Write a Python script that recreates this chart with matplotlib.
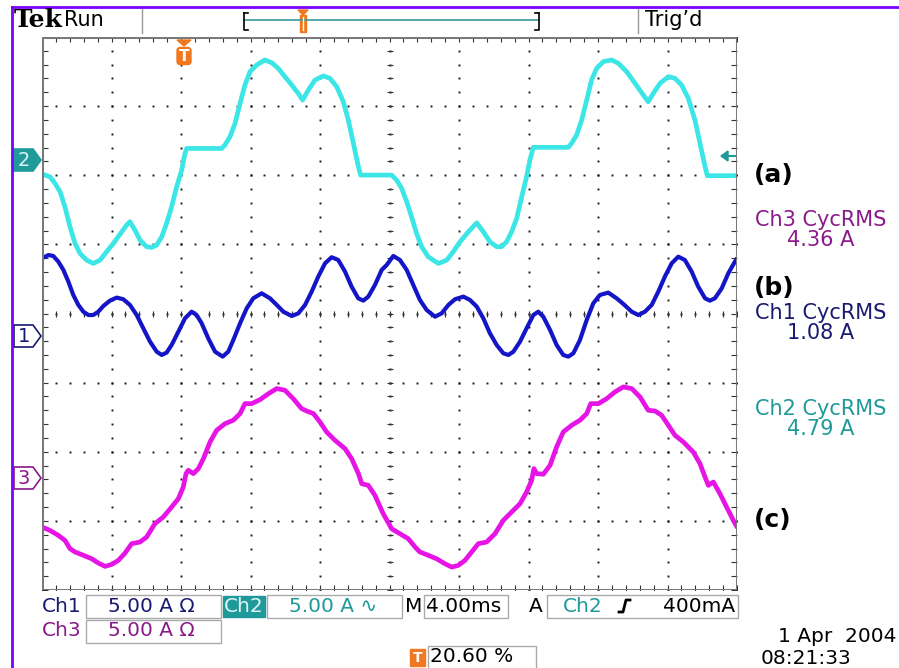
import numpy as np
import matplotlib
matplotlib.use('Agg')
import matplotlib.pyplot as plt
from matplotlib.patches import Rectangle, Polygon, FancyBboxPatch

# scope settings: 4 ms/div over 10 div, 5 A/div, 8 div high
# Ch2 (a): time in ms, current in A
t_ch2 = [0.00, 0.46, 0.75, 1.04, 1.32, 1.61, 1.90, 2.19, 2.57, 2.95, 3.34, 3.72, 4.11, 4.49, 4.87,
         5.06, 5.35, 5.64, 6.02, 6.31, 6.60, 6.89, 7.17, 7.46, 7.75, 8.04, 8.23, 8.33, 9.29, 10.34,
         10.53, 10.82, 11.11, 11.40, 11.68, 11.97, 12.35, 12.83, 13.22, 13.60, 13.98, 14.37, 14.75,
         15.00, 15.33, 15.71, 16.19, 16.57, 16.96, 17.34, 17.63, 17.92, 18.21, 18.34,
         20.12, 20.41, 20.70, 20.99, 21.27, 21.56, 21.85, 22.23, 22.81, 23.29, 23.67, 24.06, 24.54,
         25.02, 25.40, 25.78, 26.17, 26.45, 26.74, 27.03, 27.32, 27.61, 27.89, 28.08, 28.28, 30.29,
         30.48, 30.77, 31.06, 31.35, 31.63, 31.92, 32.31, 32.78, 33.17, 33.65, 34.13, 34.61, 34.89,
         35.18, 35.57, 36.05, 36.43, 36.81, 37.20, 37.58, 37.87, 38.16, 38.29, 40.00]
i_ch2 = [-1.01, -1.21, -1.69, -2.29, -3.38, -4.83, -6.03, -6.76, -7.24, -7.48, -7.24, -6.63, -6.03,
         -5.36, -4.71, -4.46, -5.07, -5.79, -6.27, -6.32, -6.15, -5.55, -4.58, -3.38, -1.93, -0.72,
         0.48, 0.84, 0.84, 0.84, 1.09, 1.69, 2.65, 4.10, 5.43, 6.39, 6.87, 7.24, 7.04, 6.63, 6.03,
         5.43, 4.82, 4.34, 5.07, 5.79, 6.08, 5.91, 5.31, 4.22, 2.89, 1.21, -0.48, -1.09,
         -1.09, -1.45, -2.05, -3.02, -4.10, -5.31, -6.27, -7.00, -7.48, -7.24, -6.63, -5.91, -5.19,
         -4.54, -5.19, -5.91, -6.27, -6.27, -5.91, -5.19, -4.22, -2.65, -1.21, 0.00, 0.92, 0.92,
         1.21, 1.81, 2.89, 4.34, 5.79, 6.63, 7.12, 7.24, 7.00, 6.39, 5.55, 4.70, 4.22, 4.82, 5.55,
         6.03, 5.91, 5.43, 4.46, 2.89, 1.21, -0.48, -1.13, -1.13]

# Ch1 (b)
t_ch1 = [0.00, 0.37, 0.65, 0.94, 1.23, 1.52, 1.80, 2.09, 2.38, 2.67, 2.95, 3.24, 3.53, 3.91, 4.30,
         4.68, 5.06, 5.45, 5.83, 6.22, 6.60, 6.89, 7.17, 7.46, 7.85, 8.23, 8.61, 8.90, 9.19, 9.57,
         9.96, 10.40, 10.72, 11.01, 11.40, 11.78, 12.16, 12.64, 13.12, 13.51, 13.89, 14.37, 14.75,
         15.14, 15.52, 15.90, 16.29, 16.67, 17.05, 17.44, 17.82, 18.20, 18.49, 18.78, 19.16, 19.55,
         19.84, 20.22, 20.60, 20.99, 21.37, 21.75, 22.14, 22.62, 23.00, 23.39, 23.77, 24.25, 24.63,
         25.02, 25.40, 25.78, 26.17, 26.55, 26.84, 27.13, 27.51, 27.89, 28.28, 28.56, 28.85, 29.24,
         29.62, 30.00, 30.29, 30.58, 30.96, 31.35, 31.73, 32.11, 32.59, 33.07, 33.46, 33.94, 34.32,
         34.70, 35.09, 35.47, 35.85, 36.24, 36.62, 37.00, 37.39, 37.77, 38.16, 38.44, 38.73, 39.12,
         39.50, 39.88, 40.00]
i_ch1 = [5.69, 5.93, 5.86, 5.45, 4.85, 4.00, 3.04, 2.32, 1.83, 1.59, 1.59, 1.83, 2.24, 2.63, 2.85,
         2.73, 2.32, 1.59, 0.63, -0.34, -1.06, -1.30, -1.13, -0.58, 0.39, 1.35, 1.83, 1.59, 0.99,
         -0.10, -1.06, -1.42, -1.06, -0.22, 0.99, 2.07, 2.80, 3.16, 2.80, 2.32, 1.83, 1.52, 1.71,
         2.32, 3.28, 4.37, 5.33, 5.77, 5.57, 4.73, 3.64, 2.80, 2.63, 2.92, 3.76, 4.85,
         5.21, 5.86, 5.57, 4.85, 3.76, 2.68, 1.95, 1.47, 1.71, 2.32, 2.73, 2.92, 2.68, 2.20, 1.35,
         0.27, -0.58, -1.18, -1.30, -1.06, -0.34, 0.63, 1.59, 1.83, 1.47, 0.51, -0.58, -1.30, -1.42,
         -1.18, -0.22, 1.23, 2.44, 3.04, 3.21, 2.80, 2.39, 1.83, 1.59, 1.83, 2.32, 3.28, 4.37, 5.33,
         5.81, 5.57, 4.73, 3.64, 2.80, 2.63, 2.80, 3.52, 4.61, 5.45, 5.69]

# Ch3 (c)
t_ch3 = [0.00, 0.46, 0.94, 1.32, 1.61, 1.90, 2.38, 2.86, 3.24, 3.63, 4.01, 4.39, 4.78, 5.16, 5.64,
         6.02, 6.50, 6.98, 7.46, 7.85, 8.13, 8.29, 8.42, 8.71, 9.00, 9.29, 9.67, 10.05, 10.53,
         11.01, 11.40, 11.68, 12.07, 12.55, 13.03, 13.51, 13.98, 14.46, 14.94, 15.23, 15.62, 16.00,
         16.38, 16.86, 17.44, 17.82, 18.21, 18.40, 18.78, 19.16, 19.55,
         19.64, 20.12, 20.60, 21.08, 21.47, 21.75, 22.23, 22.71, 23.19, 23.58, 23.96, 24.34, 24.73,
         25.11, 25.59, 26.07, 26.55, 27.03, 27.51, 27.89, 28.18, 28.31, 28.47, 28.85, 29.24, 29.62,
         30.00, 30.48, 30.96, 31.35, 31.58, 32.02, 32.50, 32.98, 33.46, 33.94, 34.42, 34.89, 35.28,
         35.66, 36.05, 36.43, 36.91, 37.48, 37.87, 38.16, 38.35, 38.64, 39.02, 39.40, 39.79, 40.00]
i_ch3 = [-3.59, -3.84, -4.20, -4.56, -5.16, -5.40, -5.64, -5.89, -6.20, -6.44, -6.30, -6.01, -5.48,
         -4.80, -4.68, -4.32, -3.35, -2.87, -2.15, -1.54, -0.70, 0.27, 0.51, 0.27, 0.63, 1.35, 2.56,
         3.40, 3.88, 4.13, 4.61, 5.33, 5.33, 5.62, 6.05, 6.42, 6.30, 5.69, 4.97, 4.80, 4.61, 4.00,
         3.28, 2.68, 2.07, 1.35, 0.27, -0.46, -0.58, -1.30, -2.39,
         -2.63, -3.72, -4.08, -4.44, -5.04, -5.40, -5.64, -5.89, -6.25, -6.49, -6.37, -6.01, -5.40,
         -4.80, -4.68, -4.08, -3.11, -2.51, -1.91, -1.06, -0.22, 0.63, 0.27, 0.22, 0.87, 2.20, 3.28,
         3.76, 4.13, 4.61, 5.33, 5.33, 5.69, 6.18, 6.54, 6.42, 5.81, 4.85, 4.80, 4.49, 3.76, 3.04,
         2.56, 1.83, 0.99, 0.02, -0.58, -0.34, -1.18, -2.15, -3.11, -3.59]

# ground level of each channel, in divisions above the bottom of the screen
ground = {'ch1': 3.66, 'ch2': 6.22, 'ch3': 1.63}
amps_per_div = 5.0
ms_per_div = 4.0

rms_labels = [('Ch3 CycRMS', '4.36 A'), ('Ch1 CycRMS', '1.08 A'), ('Ch2 CycRMS', '4.79 A')]

CYAN = '#3de6e6'
BLUE = '#1515c8'
MAGENTA = '#e615e6'
TEAL = '#1f9999'
NAVY = '#1a1a70'
PURPLE = '#8a1a8a'
ORANGE = '#f07820'
VIOLET = '#7a00ff'
FRAME = '#7a7a7a'

plt.rcParams['font.family'] = ['DejaVu Sans']

fig = plt.figure(figsize=(8.99, 6.68), dpi=100)
fig.patch.set_facecolor('white')

# graticule area
ax = fig.add_axes([42 / 899, 78 / 668, 695 / 899, 553 / 668])
ax.set_xlim(0, 10 * ms_per_div)
ax.set_ylim(0, 8)
ax.axis('off')

# dotted grid lines
minor_y = np.arange(0, 8.01, 0.2)
minor_x = np.arange(0, 40.01, 0.8)
for k in range(1, 10):
    ax.plot(np.full_like(minor_y, k * ms_per_div), minor_y, ls='none', marker='s', ms=1.4,
            color='#1a1a1a', mew=0)
for k in range(1, 8):
    ax.plot(minor_x, np.full_like(minor_x, k), ls='none', marker='s', ms=1.4,
            color='#1a1a1a', mew=0)
# centre cross ticks
ax.plot(minor_x, np.full_like(minor_x, 4), ls='none', marker='|', ms=4, color='#333333', mew=0.8)
ax.plot(np.full_like(minor_y, 20), minor_y, ls='none', marker='_', ms=4, color='#333333', mew=0.8)
# frame ticks
ax.plot(minor_x, np.full_like(minor_x, 7.97), ls='none', marker='|', ms=4, color='#333333', mew=0.8)
ax.plot(minor_x, np.full_like(minor_x, 0.03), ls='none', marker='|', ms=4, color='#333333', mew=0.8)
ax.plot(np.full_like(minor_y, 0.15), minor_y, ls='none', marker='_', ms=4, color='#333333', mew=0.8)
ax.plot(np.full_like(minor_y, 39.85), minor_y, ls='none', marker='_', ms=4, color='#333333', mew=0.8)
ax.add_patch(Rectangle((0, 0), 40, 8, fill=False, ec=FRAME, lw=2.2, zorder=5))

# traces
ax.plot(t_ch2, ground['ch2'] + np.array(i_ch2) / amps_per_div, color=CYAN, lw=3.4,
        solid_joinstyle='round', solid_capstyle='round', zorder=4)
ax.plot(t_ch1, ground['ch1'] + np.array(i_ch1) / amps_per_div, color=BLUE, lw=3.0,
        solid_joinstyle='round', solid_capstyle='round', zorder=4)
ax.plot(t_ch3, ground['ch3'] + np.array(i_ch3) / amps_per_div, color=MAGENTA, lw=3.4,
        solid_joinstyle='round', solid_capstyle='round', zorder=4)

# overlay in pixel coordinates for the screen furniture
fa = fig.add_axes([0, 0, 1, 1], zorder=3)
fa.set_xlim(0, 899)
fa.set_ylim(668, 0)
fa.axis('off')
fa.patch.set_alpha(0)

# violet outer border
fa.plot([12, 899], [7, 7], color=VIOLET, lw=2)
fa.plot([12, 12], [7, 668], color=VIOLET, lw=2)

# top status bar
fa.text(14, 20, 'Tek', fontsize=18, fontweight='bold', family='DejaVu Serif', va='center',
        ha='left')
fa.text(64, 20, 'Run', fontsize=15, va='center', ha='left')
fa.plot([142, 142], [9, 33], color='#999999', lw=1)
fa.plot([638, 638], [9, 33], color='#999999', lw=1)
fa.text(645, 20, "Trig\u2019d", fontsize=15, va='center', ha='left')
fa.plot([244, 539], [20, 20], color='#3a9a9a', lw=1.2)
fa.plot([244, 244, 248], [13, 30, 30], color='black', lw=1.2)
fa.plot([244, 248], [13, 13], color='black', lw=1.2)
fa.plot([539, 539, 535], [13, 30, 30], color='black', lw=1.2)
fa.plot([539, 535], [13, 13], color='black', lw=1.2)
fa.add_patch(Polygon([[298, 10], [308, 10], [303, 15]], color=ORANGE))
fa.add_patch(Rectangle((300, 15), 6, 17, color=ORANGE))
fa.plot([303, 303], [17, 30], color='white', lw=1)

# trigger position marker inside graticule
fa.add_patch(Polygon([[177, 40], [191, 40], [184, 46]], color=ORANGE))
fa.add_patch(FancyBboxPatch((177.5, 48), 13, 16, boxstyle='round,pad=0.5,rounding_size=3',
                            color=ORANGE))
fa.text(184, 56.5, 'T', color='white', fontsize=11, fontweight='bold', ha='center', va='center')

# channel ground markers
def marker(y, label, fc, ec, tc):
    pts = [[14, y - 11], [33, y - 11], [41, y], [33, y + 11], [14, y + 11]]
    fa.add_patch(Polygon(pts, closed=True, fc=fc, ec=ec, lw=1.2))
    fa.text(24, y + 1, label, color=tc, fontsize=14, ha='center', va='center')

marker(160, '2', TEAL, TEAL, '#d8f4f4')
marker(336, '1', 'white', NAVY, NAVY)
marker(478, '3', 'white', PURPLE, PURPLE)

# ch2 level arrow on right edge
fa.add_patch(Polygon([[721, 156], [728, 151], [728, 161]], color=TEAL))
fa.plot([727, 735], [156, 156], color=TEAL, lw=1.5)

# right side labels
fa.text(754, 175, '(a)', fontsize=18, fontweight='bold', va='center', ha='left')
fa.text(754, 288, '(b)', fontsize=18, fontweight='bold', va='center', ha='left')
fa.text(754, 520, '(c)', fontsize=18, fontweight='bold', va='center', ha='left')
for (name, val), col, y in zip(rms_labels, [PURPLE, NAVY, TEAL], [220, 313, 409]):
    fa.text(821, y, name, color=col, fontsize=15, ha='center', va='center')
    fa.text(821, y + 20, val, color=col, fontsize=15, ha='center', va='center')

# bottom readouts
def box(x0, y0, x1, y1, fc='white', ec='#aaaaaa'):
    fa.add_patch(Rectangle((x0, y0), x1 - x0, y1 - y0, fc=fc, ec=ec, lw=1))

box(86, 595, 221, 618)
box(267, 595, 402, 618)
box(424, 595, 508, 618)
box(547, 595, 738, 618)
box(86, 620, 221, 643)
box(223, 596, 265, 617, fc=TEAL, ec=TEAL)
box(428, 646, 536, 669)

fs = 14.5
fa.text(42, 606, 'Ch1', color=NAVY, fontsize=fs, va='center')
fa.text(108, 606, '5.00 A \u03a9', color=NAVY, fontsize=fs, va='center')
fa.text(244, 606, 'Ch2', color='#e0f6f6', fontsize=fs, va='center', ha='center')
fa.text(289, 606, '5.00 A \u223f', color=TEAL, fontsize=fs, va='center')
fa.text(405, 606, 'M', color='black', fontsize=fs, va='center')
fa.text(426, 606, '4.00ms', color='black', fontsize=fs, va='center')
fa.text(529, 606, 'A', color='black', fontsize=fs, va='center')
fa.text(563, 606, 'Ch2', color=TEAL, fontsize=fs, va='center')
fa.plot([619, 623, 626, 630], [612, 612, 600, 600], color='black', lw=2)
fa.text(735, 606, '400mA', color='black', fontsize=fs, va='center', ha='right')
fa.text(42, 631, 'Ch3', color=PURPLE, fontsize=fs, va='center')
fa.text(108, 631, '5.00 A \u03a9', color=PURPLE, fontsize=fs, va='center')

fa.add_patch(Rectangle((410, 649), 15, 17, color=ORANGE))
fa.text(417.5, 657.5, 'T', color='white', fontsize=10, fontweight='bold', ha='center', va='center')
fa.text(430, 657, '20.60 %', color='black', fontsize=fs, va='center')

fa.text(897, 636, '1 Apr  2004', color='black', fontsize=fs, va='center', ha='right')
fa.text(761, 658, '08:21:33', color='black', fontsize=fs, va='center', ha='left')

fig.savefig('out.png', dpi=100, facecolor='white')
